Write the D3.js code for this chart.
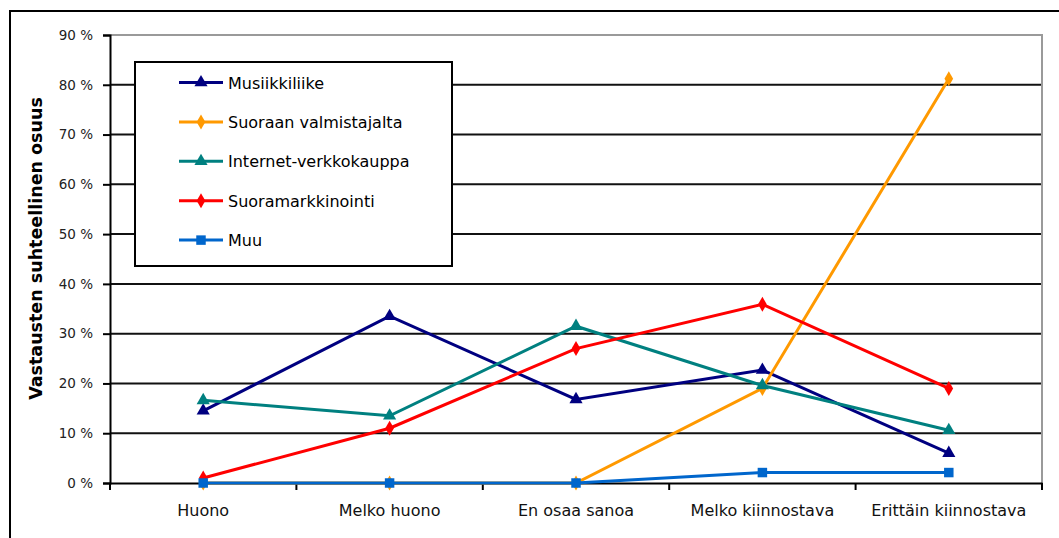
<!DOCTYPE html>
<html>
<head>
<meta charset="utf-8">
<script src="https://cdn.jsdelivr.net/npm/d3@7"></script>
<style>
  body { margin: 0; background: #fff; }
  text { font-family: "DejaVu Sans", Tahoma, sans-serif; }
</style>
</head>
<body>
<svg id="chart" width="1059" height="538"></svg>
<script>
// categories on the x axis
const categories = ['Huono', 'Melko huono', 'En osaa sanoa', 'Melko kiinnostava', 'Erittäin kiinnostava'];

// series values (percent)
const musiikkiliike = [14.5, 33.5, 16.8, 22.7, 6];
const suoraanValmistajalta = [0, 0, 0, 19, 81.2];
const internetVerkkokauppa = [16.6, 13.5, 31.5, 19.6, 10.6];
const suoramarkkinointi = [1, 11, 27, 35.9, 19];
const muu = [0, 0, 0, 2.1, 2.1];

const seriesNames = ['Musiikkiliike', 'Suoraan valmistajalta', 'Internet-verkkokauppa', 'Suoramarkkinointi', 'Muu'];
const yTicks = [0, 10, 20, 30, 40, 50, 60, 70, 80, 90];

// look of each series
const colors = ['#000080', '#ff9900', '#008080', '#ff0000', '#0066cc'];
const symbols = [d3.symbolTriangle, d3.symbolDiamond, d3.symbolTriangle, d3.symbolDiamond, d3.symbolSquare];
const symbolSizes = [75, 65, 75, 65, 90];

const series = [musiikkiliike, suoraanValmistajalta, internetVerkkokauppa, suoramarkkinointi, muu]
    .map((values, i) => ({ name: seriesNames[i], values: values }));

const svg = d3.select('#chart');

// plot area
const plotLeft = 110, plotRight = 1042, plotTop = 35, plotBottom = 483;

// outer chart frame, runs off the right and bottom of the picture
svg.append('rect')
    .attr('x', 10).attr('y', 11)
    .attr('width', 1100).attr('height', 600)
    .attr('fill', 'none')
    .attr('stroke', '#000')
    .attr('stroke-width', 2);

let x = d3.scaleBand()
    .domain(categories)
    .range([plotLeft, plotRight]);

let y = d3.scaleLinear()
    .domain([0, 90])
    .range([plotBottom, plotTop]);

// horizontal gridlines
svg.append('g')
    .selectAll('line')
    .data(yTicks.filter(d => d > 0 && d < 90))
    .join('line')
        .attr('x1', plotLeft).attr('x2', plotRight)
        .attr('y1', d => y(d)).attr('y2', d => y(d))
        .attr('stroke', '#111')
        .attr('stroke-width', 2);

// gray border on top and right of the plot area
svg.append('path')
    .attr('d', `M${plotLeft},${y(90)}H${plotRight}V${plotBottom}`)
    .attr('fill', 'none')
    .attr('stroke', '#9a9a9a')
    .attr('stroke-width', 2);

// y axis
let yAxis = d3.axisLeft(y)
    .tickValues(yTicks)
    .tickSize(7)
    .tickPadding(10)
    .tickFormat(d => d + ' %');
let gy = svg.append('g')
    .attr('transform', `translate(${plotLeft},0)`)
    .call(yAxis);
gy.select('.domain').attr('stroke', '#000').attr('stroke-width', 2);
gy.selectAll('.tick line').attr('stroke', '#000').attr('stroke-width', 2);
gy.selectAll('.tick text')
    .attr('font-size', 13.5)
    .attr('font-family', '"DejaVu Sans", sans-serif')
    .attr('fill', '#222');

// x axis, ticks on category boundaries
let gx = svg.append('g')
    .attr('transform', `translate(0,${plotBottom})`)
    .call(d3.axisBottom(x).tickSize(0).tickPadding(22));
gx.select('.domain').attr('stroke', '#000').attr('stroke-width', 2);
gx.selectAll('.tick text')
    .attr('font-size', 16)
    .attr('font-family', '"DejaVu Sans", sans-serif')
    .attr('fill', '#111');
gx.selectAll('.boundary')
    .data(d3.range(categories.length + 1))
    .join('line')
        .attr('class', 'boundary')
        .attr('x1', i => plotLeft + i * x.bandwidth())
        .attr('x2', i => plotLeft + i * x.bandwidth())
        .attr('y1', 0).attr('y2', 7)
        .attr('stroke', '#000')
        .attr('stroke-width', 2);

// y axis title
svg.append('text')
    .attr('transform', 'translate(42,248.5) rotate(-90)')
    .attr('text-anchor', 'middle')
    .attr('font-size', 17.5)
    .attr('font-weight', 'bold')
    .attr('fill', '#000')
    .text('Vastausten suhteellinen osuus');

// series lines and markers
let line = d3.line()
    .x((d, i) => x(categories[i]) + x.bandwidth() / 2)
    .y(d => y(d));

let groups = svg.append('g')
    .selectAll('g')
    .data(series)
    .join('g');

groups.append('path')
    .attr('d', d => line(d.values))
    .attr('fill', 'none')
    .attr('stroke', (d, i) => colors[i])
    .attr('stroke-width', 3);

groups.each(function(s, si) {
    d3.select(this).selectAll('path.marker')
        .data(s.values)
        .join('path')
            .attr('class', 'marker')
            .attr('d', d3.symbol().type(symbols[si]).size(symbolSizes[si]))
            .attr('transform', (d, i) => `translate(${x(categories[i]) + x.bandwidth() / 2},${y(d)})`)
            .attr('fill', colors[si]);
});

// legend box
let legend = svg.append('g');
legend.append('rect')
    .attr('x', 135).attr('y', 62)
    .attr('width', 317).attr('height', 204)
    .attr('fill', '#fff')
    .attr('stroke', '#000')
    .attr('stroke-width', 2);

let entries = legend.selectAll('g')
    .data(series)
    .join('g')
        .attr('transform', (d, i) => `translate(0,${82.5 + i * 39.4})`);

entries.append('line')
    .attr('x1', 179).attr('x2', 223)
    .attr('stroke', (d, i) => colors[i])
    .attr('stroke-width', 3);

entries.append('path')
    .attr('d', (d, i) => d3.symbol().type(symbols[i]).size(symbolSizes[i])())
    .attr('transform', 'translate(201,0)')
    .attr('fill', (d, i) => colors[i]);

entries.append('text')
    .attr('x', 228)
    .attr('y', 6)
    .attr('font-size', 16)
    .attr('fill', '#000')
    .text(d => d.name);
</script>
</body>
</html>
